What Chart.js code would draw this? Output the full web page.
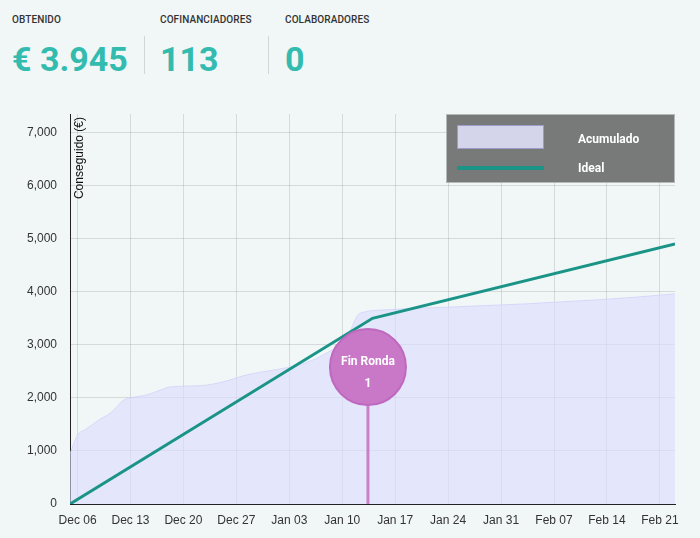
<!DOCTYPE html>
<html>
<head>
<meta charset="utf-8">
<script src="https://cdn.jsdelivr.net/npm/chart.js@4.4.0/dist/chart.umd.min.js"></script>
<style>
    body {
        margin: 0;
        width: 700px;
        height: 538px;
        background: #f0f7f6;
        font-family: Roboto, "Liberation Sans", sans-serif;
        position: relative;
        overflow: hidden;
    }
    .stat {
        position: absolute;
        top: 14px;
    }
    .stat .label {
        font-size: 10px;
        font-weight: 500;
        color: #333;
        letter-spacing: 0.1px;
    }
    .stat .value {
        margin-top: 14px;
        font-size: 34px;
        font-weight: 700;
        color: #34bbb0;
        line-height: 40px;
    }
    .sep {
        position: absolute;
        top: 36px;
        width: 1px;
        height: 38px;
        background: #d2d7d6;
    }
    #wrap {
        position: absolute;
        left: 0;
        top: 100px;
        width: 700px;
        height: 438px;
    }
</style>
</head>
<body>

<div class="stat" style="left:12px"><div class="label">OBTENIDO</div><div class="value">€ 3.945</div></div>
<div class="sep" style="left:144px"></div>
<div class="stat" style="left:160px"><div class="label">COFINANCIADORES</div><div class="value">113</div></div>
<div class="sep" style="left:268px"></div>
<div class="stat" style="left:285px"><div class="label">COLABORADORES</div><div class="value">0</div></div>

<div id="wrap"><canvas id="myChart" width="700" height="438"></canvas></div>

<script>
// Days counted from Dec 05
const tickDays = [1, 8, 15, 22, 29, 36, 43, 50, 57, 64, 71, 78];
const tickLabels = ['Dec 06', 'Dec 13', 'Dec 20', 'Dec 27', 'Jan 03', 'Jan 10', 'Jan 17', 'Jan 24', 'Jan 31', 'Feb 07', 'Feb 14', 'Feb 21'];

// Y axis ticks (€)
const yTicks = [0, 1000, 2000, 3000, 4000, 5000, 6000, 7000];
const yMax = 7350;

// Accumulated amount (€)
const acumDays = [0, 1, 2, 3, 4, 5, 6, 7, 8, 10, 12, 13, 15, 18, 21, 23, 25, 28, 31, 34, 36, 37, 38, 39, 42, 46, 50, 55, 60, 65, 70, 75, 80];
const acumValues = [950, 1300, 1400, 1500, 1600, 1680, 1800, 1950, 2000, 2050, 2150, 2200, 2220, 2240, 2330, 2420, 2480, 2550, 2650, 2850, 3050, 3250, 3550, 3620, 3660, 3690, 3710, 3740, 3770, 3810, 3850, 3900, 3960];

// Ideal line (€)
const idealDays = [0, 40, 80];
const idealValues = [0, 3500, 4900];

// End of round marker
const rondaDay = 39.4;
const rondaValue = 2580;
const rondaText = ['Fin Ronda', '1'];

// Plugin for the axis title, the round marker and the legend box
const extras = {
    id: 'extras',
    afterDatasetsDraw(chart) {
        const ctx = chart.ctx;
        const area = chart.chartArea;
        const xs = chart.scales.x;
        const ys = chart.scales.y;

        // Y axis title inside the plot
        ctx.save();
        ctx.translate(area.left + 10, area.top + 3);
        ctx.rotate(-Math.PI / 2);
        ctx.font = '12px "Liberation Sans", Arial, sans-serif';
        ctx.fillStyle = '#111';
        ctx.textAlign = 'right';
        ctx.textBaseline = 'middle';
        ctx.fillText('Conseguido (€)', 0, 0);
        ctx.restore();

        // Round marker
        const mx = xs.getPixelForValue(rondaDay);
        const my = ys.getPixelForValue(rondaValue);
        const r = 38;
        ctx.save();
        ctx.strokeStyle = '#c97fcb';
        ctx.lineWidth = 3;
        ctx.beginPath();
        ctx.moveTo(mx, my + r);
        ctx.lineTo(mx, ys.getPixelForValue(0));
        ctx.stroke();

        ctx.beginPath();
        ctx.arc(mx, my, r, 0, Math.PI * 2);
        ctx.fillStyle = '#c878c6';
        ctx.fill();
        ctx.lineWidth = 2;
        ctx.strokeStyle = '#bf68bf';
        ctx.stroke();

        ctx.fillStyle = '#fff';
        ctx.font = 'bold 12px Roboto, sans-serif';
        ctx.textAlign = 'center';
        ctx.textBaseline = 'middle';
        ctx.fillText(rondaText[0], mx, my - 5);
        ctx.fillText(rondaText[1], mx, my + 17);
        ctx.restore();

        // Legend box in top right corner
        const lw = 229, lh = 69;
        const lx = area.right - lw;
        const ly = area.top;
        ctx.save();
        ctx.fillStyle = '#777a79';
        ctx.fillRect(lx, ly, lw, lh);
        ctx.strokeStyle = '#b5b9b8';
        ctx.lineWidth = 1;
        ctx.strokeRect(lx + 0.5, ly + 0.5, lw - 1, lh - 1);

        ctx.fillStyle = '#d4d4ea';
        ctx.fillRect(lx + 11, ly + 11, 87, 24);
        ctx.strokeStyle = '#9c9cc8';
        ctx.strokeRect(lx + 11.5, ly + 11.5, 86, 23);

        ctx.strokeStyle = '#1b9488';
        ctx.lineWidth = 4;
        ctx.beginPath();
        ctx.moveTo(lx + 11, ly + 54);
        ctx.lineTo(lx + 98, ly + 54);
        ctx.stroke();

        ctx.fillStyle = '#fff';
        ctx.font = 'bold 12px Roboto, sans-serif';
        ctx.textAlign = 'left';
        ctx.textBaseline = 'middle';
        ctx.fillText('Acumulado', lx + 132, ly + 26);
        ctx.fillText('Ideal', lx + 132, ly + 55);
        ctx.restore();
    }
};

const ctx = document.getElementById('myChart').getContext('2d');
const myChart = new Chart(ctx, {
    type: 'line',
    data: {
        datasets: [
            {
                label: 'Ideal',
                data: idealDays.map((d, i) => ({ x: d, y: idealValues[i] })),
                borderColor: '#1b9488',
                borderWidth: 3,
                pointRadius: 0,
                fill: false,
                tension: 0,
            },
            {
                label: 'Acumulado',
                data: acumDays.map((d, i) => ({ x: d, y: acumValues[i] })),
                borderColor: 'rgba(205, 205, 250, 0.7)',
                borderWidth: 1,
                backgroundColor: 'rgba(220, 220, 255, 0.6)',
                pointRadius: 0,
                fill: 'origin',
                cubicInterpolationMode: 'monotone',
            },
        ]
    },
    options: {
        responsive: false,
        animation: false,
        devicePixelRatio: 1,
        layout: { padding: { top: 14, right: 25, left: 0, bottom: 0 } },
        plugins: {
            legend: { display: false },
            tooltip: { enabled: false },
        },
        scales: {
            x: {
                type: 'linear',
                min: 0,
                max: 80,
                afterBuildTicks: scale => {
                    scale.ticks = tickDays.map(v => ({ value: v }));
                },
                afterFit: scale => { scale.height = 34; },
                ticks: {
                    callback: (v) => tickLabels[tickDays.indexOf(v)],
                    color: '#333',
                    font: { family: '"Liberation Sans", Arial, sans-serif', size: 12 },
                    padding: 9,
                    maxRotation: 0,
                },
                grid: { color: 'rgba(0, 0, 0, 0.11)', drawTicks: false },
                border: { color: '#222', width: 1 },
            },
            y: {
                min: 0,
                max: yMax,
                afterBuildTicks: scale => {
                    scale.ticks = yTicks.map(v => ({ value: v }));
                },
                afterFit: scale => {
                    scale.width = 70;
                    scale.paddingTop = 0;
                    scale.paddingBottom = 0;
                },
                ticks: {
                    callback: (v) => v.toLocaleString('en-US'),
                    color: '#333',
                    font: { family: '"Liberation Sans", Arial, sans-serif', size: 12 },
                    padding: 13,
                },
                grid: { color: 'rgba(0, 0, 0, 0.11)', drawTicks: false },
                border: { color: '#222', width: 1 },
            }
        }
    },
    plugins: [extras]
});
</script>
</body>
</html>
